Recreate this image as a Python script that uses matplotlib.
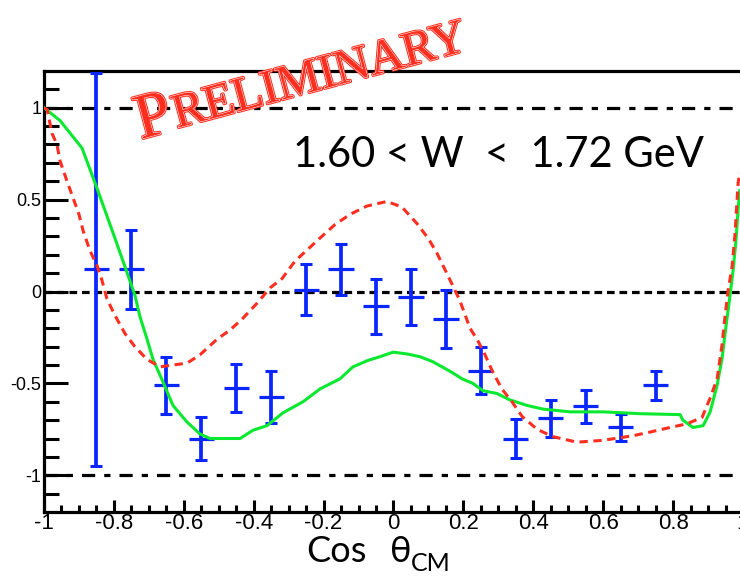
import matplotlib
matplotlib.use('Agg')
import matplotlib.pyplot as plt
import matplotlib.patheffects as pe
import numpy as np

plt.rcParams['lines.scale_dashes'] = False

# data points (beam asymmetry vs cos theta_cm)
cos_theta = [-0.85, -0.75, -0.65, -0.55, -0.45, -0.35, -0.25, -0.15, -0.05,
             0.05, 0.15, 0.25, 0.35, 0.45, 0.55, 0.65, 0.75]
asym = [0.12, 0.12, -0.51, -0.80, -0.525, -0.575, 0.01, 0.12, -0.08,
        -0.03, -0.15, -0.43, -0.80, -0.69, -0.625, -0.74, -0.51]
asym_err = [1.07, 0.215, 0.155, 0.115, 0.13, 0.14, 0.14, 0.14, 0.15,
            0.15, 0.16, 0.13, 0.105, 0.10, 0.09, 0.075, 0.08]
half_bin = 0.036

# model curves
red_x = [-1.0, -0.991, -0.977, -0.963, -0.954, -0.934, -0.917, -0.900, -0.888, -0.868,
         -0.848, -0.834, -0.820, -0.797, -0.768, -0.740, -0.705, -0.668, -0.631, -0.591,
         -0.554, -0.505, -0.468, -0.433, -0.391, -0.353, -0.319, -0.282, -0.245, -0.205,
         -0.167, -0.124, -0.076, -0.019, 0.024, 0.067, 0.099, 0.124, 0.147, 0.170,
         0.190, 0.219, 0.242, 0.262, 0.282, 0.310, 0.339, 0.368, 0.411, 0.456,
         0.525, 0.599, 0.685, 0.734, 0.791, 0.840, 0.883, 0.906, 0.926, 0.940,
         0.948, 0.957, 0.969, 0.977, 0.986, 0.991]
red_y = [1.0, 0.99, 0.86, 0.80, 0.71, 0.60, 0.51, 0.42, 0.33, 0.22,
         0.14, 0.06, -0.04, -0.13, -0.23, -0.30, -0.37, -0.41, -0.40, -0.39,
         -0.345, -0.26, -0.21, -0.15, -0.065, 0.02, 0.07, 0.165, 0.23, 0.30,
         0.365, 0.42, 0.465, 0.49, 0.46, 0.37, 0.29, 0.21, 0.12, 0.03,
         -0.05, -0.20, -0.27, -0.345, -0.43, -0.53, -0.60, -0.68, -0.75, -0.79,
         -0.82, -0.81, -0.785, -0.765, -0.74, -0.72, -0.685, -0.58, -0.475, -0.29,
         -0.145, 0.0, 0.14, 0.31, 0.59, 0.65]

green_x = [-1.0, -0.954, -0.891, -0.848, -0.797, -0.760, -0.740, -0.725, -0.705, -0.688,
           -0.660, -0.631, -0.591, -0.554, -0.525, -0.439, -0.402, -0.362, -0.316, -0.259,
           -0.210, -0.153, -0.116, -0.073, -0.039, -0.001, 0.039, 0.076, 0.110, 0.139,
           0.167, 0.196, 0.227, 0.256, 0.296, 0.333, 0.382, 0.428, 0.505, 0.599,
           0.705, 0.820, 0.828, 0.857, 0.886, 0.906, 0.926, 0.940, 0.952, 0.963,
           0.972, 0.980, 0.986, 0.991]
green_y = [1.0, 0.93, 0.78, 0.56, 0.29, 0.09, -0.02, -0.14, -0.26, -0.37,
           -0.49, -0.62, -0.71, -0.775, -0.80, -0.80, -0.755, -0.73, -0.66, -0.60,
           -0.53, -0.475, -0.41, -0.375, -0.355, -0.33, -0.34, -0.355, -0.38, -0.41,
           -0.44, -0.475, -0.50, -0.54, -0.555, -0.59, -0.62, -0.64, -0.655, -0.655,
           -0.665, -0.67, -0.70, -0.74, -0.73, -0.655, -0.51, -0.365, -0.18, -0.02,
           0.12, 0.28, 0.45, 0.55]

blue = '#0a26ff'
red = '#ff2e1f'
green = '#0be830'

W, H = 740, 576
fig = plt.figure(figsize=(W/100, H/100), dpi=100)
ax = fig.add_axes([44/W, 1-512/H, 699/W, 441/H])

ax.axhline(1, color='k', lw=2.3, dashes=(9.5, 6.5, 4.5, 6.5), zorder=1)
ax.axhline(-1, color='k', lw=2.3, dashes=(9.5, 6.5, 4.5, 6.5), zorder=1)
ax.axhline(0, color='k', lw=2.3, dashes=(5.5, 3.5), zorder=1)

ax.errorbar(cos_theta, asym, yerr=asym_err, fmt='none', ecolor=blue,
            elinewidth=2.7, capsize=4.5, capthick=2.2, zorder=3)
ax.errorbar(cos_theta, asym, xerr=half_bin, fmt='none', ecolor=blue,
            elinewidth=2.3, capsize=0, zorder=3)

ax.plot(green_x, green_y, color=green, lw=2.2, zorder=4)
ax.plot(red_x, red_y, color=red, lw=2.2, dashes=(6, 4), zorder=5)

ax.set_xlim(-1, 1)
ax.set_ylim(-1.2, 1.2)

ax.set_xticks(np.arange(-1, 1.01, 0.2))
ax.set_xticklabels(['-1', '-0.8', '-0.6', '-0.4', '-0.2', '0', '0.2', '0.4', '0.6', '0.8', '1'],
                   family='Liberation Sans', fontsize=16)
ax.set_xticks(np.arange(-1, 1.01, 0.05), minor=True)
ax.set_yticks([-1, -0.5, 0, 0.5, 1])
ax.set_yticklabels(['-1', '-0.5', '0', '0.5', '1'], family='Liberation Sans', fontsize=13)
ax.set_yticks(np.arange(-1.1, 1.11, 0.1), minor=True)

ax.tick_params(axis='both', which='both', direction='in', width=2.2, top=False, right=False)
ax.tick_params(axis='x', which='major', length=8.6, pad=1)
ax.tick_params(axis='x', which='minor', length=5)
ax.tick_params(axis='y', which='major', length=17, pad=2)
ax.tick_params(axis='y', which='minor', length=11)
for s in ax.spines.values():
    s.set_linewidth(2.3)

def fx(px):
    return px / W

def fy(py):
    return 1 - py / H

lbl_font = ['Lato', 'DejaVu Sans']
fig.text(fx(293), fy(167), '1.60 < W  <  1.72 GeV', family=lbl_font,
         fontsize=30, ha='left', va='baseline')
# x axis title in pieces: Cos, theta, CM subscript
fig.text(fx(306), fy(562), 'Cos', family=lbl_font, fontsize=26, ha='left', va='baseline')
fig.text(fx(390), fy(562), 'θ', family=lbl_font, fontsize=26, ha='left', va='baseline')
fig.text(fx(411), fy(571), 'CM', family=lbl_font, fontsize=18, ha='left', va='baseline')

# red PRELIMINARY stamp
effects = [pe.Stroke(linewidth=2.2, foreground=red), pe.Stroke(linewidth=0.7, foreground='white'), pe.Normal()]
fig.text(fx(141), fy(139), 'P', family='Liberation Serif', fontsize=46,
         color=red, rotation=15, rotation_mode='anchor', ha='left', va='baseline',
         path_effects=effects, zorder=10)
fig.text(fx(177), fy(128), 'RELIMINARY', family='Liberation Serif', fontsize=35,
         color=red, rotation=15, rotation_mode='anchor', ha='left', va='baseline',
         path_effects=effects, zorder=10)

fig.savefig('out.png', dpi=100)
